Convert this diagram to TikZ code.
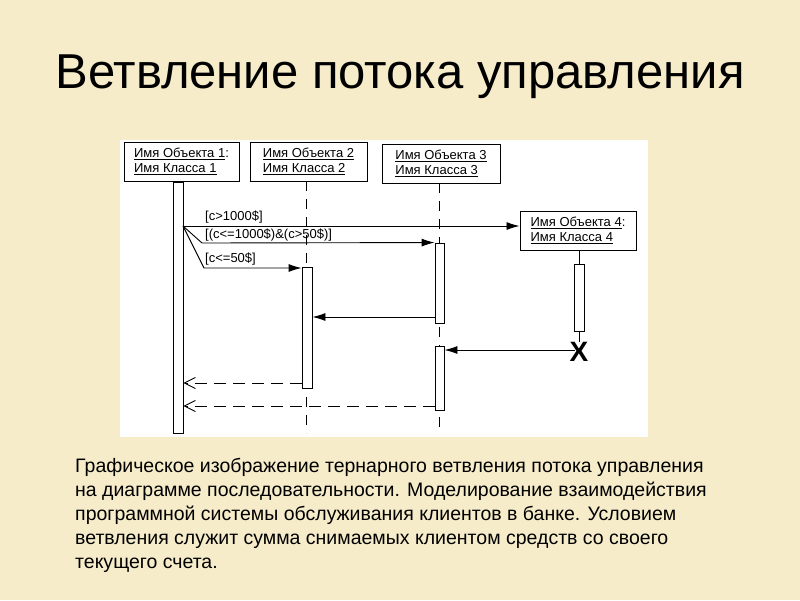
\documentclass[tikz,border=0pt]{standalone}
\usepackage{fontspec}
\setmainfont{Liberation Sans}
\usetikzlibrary{arrows.meta}
\definecolor{bg}{RGB}{246,236,202}
\tikzset{
 obj/.style={draw,line width=1pt,fill=white,align=left,font=\fontsize{13}{14.5}\selectfont,inner sep=0pt},
 act/.style={draw,line width=0.9pt,fill=white,inner sep=0pt},
 msg/.style={line width=0.9pt,-{Latex[length=13pt,width=8pt]}},
 ret/.style={line width=0.9pt,dash pattern=on 12pt off 7pt,-{Straight Barb[length=11pt,width=11pt]}},
 life/.style={line width=0.9pt,dash pattern=on 10pt off 8pt},
 lbl/.style={font=\fontsize{13}{14}\selectfont,anchor=south west,inner sep=1pt}
}
\begin{document}
\begin{tikzpicture}[x=1pt,y=-1pt]
\fill[bg] (0,0) rectangle (800,600);
\useasboundingbox (0,0) rectangle (800,600);
\node[font=\fontsize{49}{52}\selectfont] (title) at (400,77) {Ветвление потока управления};
\fill[white] (120,140) rectangle (648,437);
% objects
\node[obj,minimum width=115pt,minimum height=39pt] (o1) at (181.5,161.5) {\underline{Имя\ Объекта 1}:\\\underline{Имя\ Класса\ 1}};
\node[obj,minimum width=117pt,minimum height=39pt] (o2) at (308.5,161.5) {\underline{Имя\ Объекта 2}\\\underline{Имя\ Класса\ 2}};
\node[obj,minimum width=118pt,minimum height=39pt] (o3) at (441,163.5) {\underline{Имя\ Объекта 3}\\\underline{Имя\ Класса\ 3}};
\node[obj,minimum width=116pt,minimum height=39pt] (o4) at (578,230.5) {\underline{Имя\ Объекта 4}:\\\underline{Имя\ Класса\ 4}};
% lifelines
\draw[life] (306,181) -- (306,433);
\draw[life] (439,183) -- (439,433);
\draw[line width=0.9pt] (579,250) -- (579,264) (579,331) -- (579,342);
% activations
\node[act,minimum width=10pt,minimum height=251pt] (a1) at (178,307.5) {};
\node[act,minimum width=10pt,minimum height=121pt] (a2) at (307,327.5) {};
\node[act,minimum width=9pt,minimum height=80pt] (a3) at (439.5,283) {};
\node[act,minimum width=9pt,minimum height=64pt] (a3b) at (439.5,378) {};
\node[act,minimum width=10pt,minimum height=67pt] (a4) at (579,297.5) {};
\node[font=\bfseries\fontsize{28}{28}\selectfont,inner sep=0pt] (x4) at (579,352) {X};
\coordinate (s) at (183,226);
\coordinate (b2) at (202,243);
\coordinate (b3) at (204,268);
% messages
\draw[msg] (s) -- (o4.west|-s);
\node[lbl] (l1) at (204,224) {[c>1000\$]};
\draw[msg] (s) -- (b2) -- (a3.north west);
\node[lbl] (l2) at (204,242) {[(c<=1000\$)\&(c>50\$)]};
\draw[msg] (s) -- (b3) -- (b3-|a2.west);
\node[lbl] (l3) at (204,266) {[c<=50\$]};
\draw[msg] (a3.west|-0,317) -- (a2.east|-0,317);
\draw[msg] (575,350) -- (a3b.east|-0,350);
\draw[ret] (a2.west|-0,383) -- (a1.east|-0,383);
\draw[ret] (a3b.west|-0,406) -- (a1.east|-0,406);
\node[anchor=north west,align=left,font=\fontsize{19.5}{24}\selectfont,inner sep=0pt] (cap) at (75,458) {Графическое изображение тернарного ветвления потока управления\\на диаграмме последовательности. Моделирование взаимодействия\\программной системы обслуживания клиентов в банке. Условием\\ветвления служит сумма снимаемых клиентом средств со своего\\текущего счета.};
\end{tikzpicture}
\end{document}
